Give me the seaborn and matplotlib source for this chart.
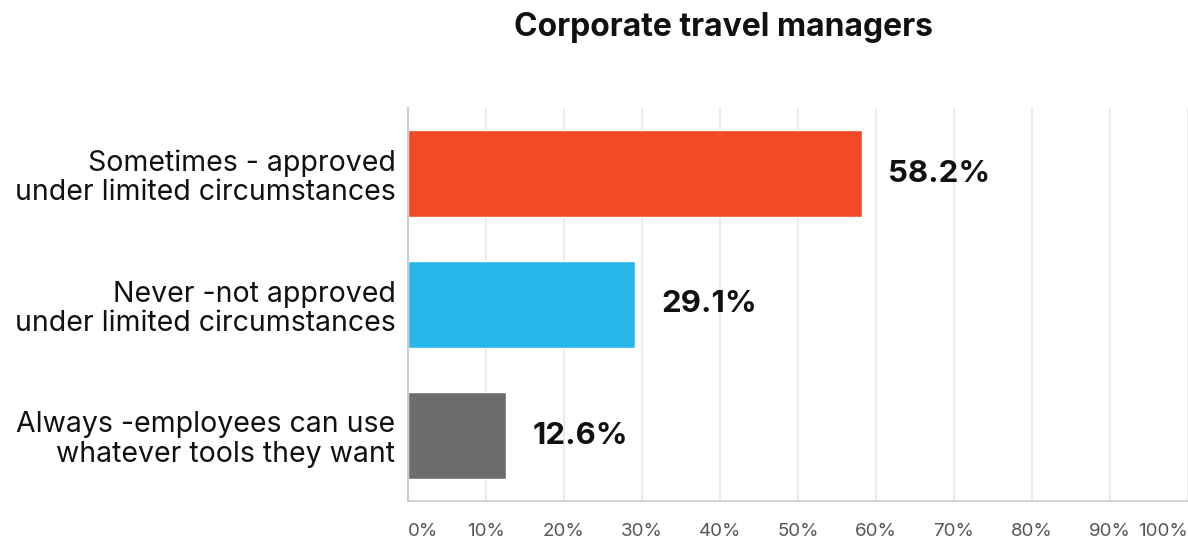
import matplotlib
matplotlib.use("Agg")
import matplotlib.pyplot as plt
import seaborn as sns
import pandas as pd

categories = ["Sometimes - approved\nunder limited circumstances",
              "Never -not approved\nunder limited circumstances",
              "Always -employees can use\nwhatever tools they want"]
values = [58.2, 29.1, 12.6]
colors = ["#F24A26", "#29B6E9", "#6D6D6D"]
tick_vals = [0, 10, 20, 30, 40, 50, 60, 70, 80, 90, 100]
tick_labels = [f"{v}%" for v in tick_vals]
title = "Corporate travel managers"

sns.set_theme(style="white")
plt.rcParams['font.family'] = ['Inter', 'DejaVu Sans']

df = pd.DataFrame({"cat": categories, "val": values})

fig = plt.figure(figsize=(11.88, 5.38), dpi=100)
ax = fig.add_axes([408/1188, 1 - 501/538, 780/1188, 393/538])
sns.barplot(data=df, x="val", y="cat", hue="cat", palette=colors, legend=False,
            width=0.66, ax=ax, saturation=1)
ax.set_xlim(0, 100)
ax.set_ylim(2.5, -0.5)
ax.set_xticks(tick_vals)
ax.set_xticklabels(tick_labels, fontsize=13.5, color="#555555")
lbls = ax.get_xticklabels()
lbls[0].set_horizontalalignment("left")
lbls[-1].set_horizontalalignment("right")
ax.tick_params(axis="x", length=0, pad=16)
ax.tick_params(axis="y", length=0, pad=9)
for t in ax.get_yticklabels():
    t.set_fontsize(20.5)
    t.set_color("#111111")
    t.set_linespacing(1.1)
ax.set_xlabel("")
ax.set_ylabel("")
ax.grid(axis="x", color="#E6E6E6", linewidth=1.2)
ax.set_axisbelow(True)
for s in ["top", "right"]:
    ax.spines[s].set_visible(False)
ax.spines["left"].set_color("#CCCCCC")
ax.spines["left"].set_linewidth(1.5)
ax.spines["bottom"].set_color("#CCCCCC")
ax.spines["bottom"].set_linewidth(1.2)

for i, v in enumerate(values):
    ax.annotate(f"{v}%", xy=(v, i), xytext=(26, 0), textcoords="offset pixels",
                ha="left", va="center", fontsize=22.5, fontweight="bold", color="#111111")

fig.text(723/1188, 1 - 28/538, title, ha="center", va="center",
         fontsize=23, fontweight="bold", color="#111111")

fig.savefig("out.png", dpi=100)
